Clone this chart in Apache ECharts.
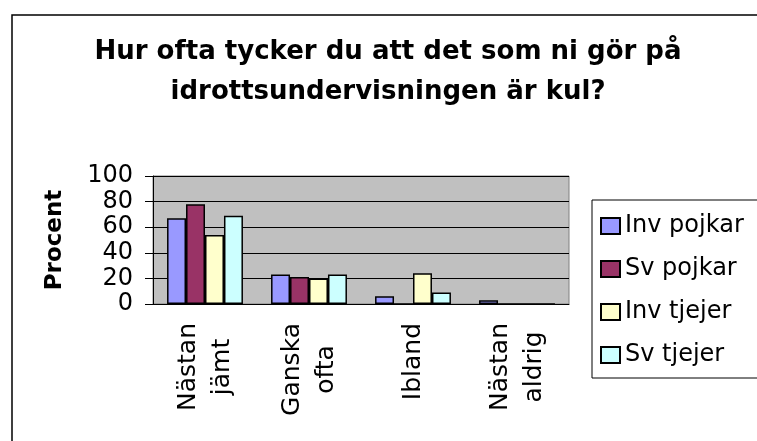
<!DOCTYPE html>
<html>
<head>
<meta charset="utf-8">
<script src="https://cdn.jsdelivr.net/npm/echarts@6/dist/echarts.min.js"></script>
<style>
html, body { margin: 0; padding: 0; background: #fff; }
#main { width: 757px; height: 441px; }
</style>
</head>
<body>
<div id="main"></div>
<script>
// data
var categories = ['Nästan\njämt', 'Ganska\nofta', 'Ibland', 'Nästan\naldrig'];
var seriesNames = ['Inv pojkar', 'Sv pojkar', 'Inv tjejer', 'Sv tjejer'];
var invPojkar = [67, 23, 6, 3];
var svPojkar = [78, 21, 0, 0];
var invTjejer = [54, 20, 24, 0];
var svTjejer = [69, 23, 9, 0];
var colors = ['#9999FF', '#993366', '#FFFFCC', '#CCFFFF'];

var chart = echarts.init(document.getElementById('main'));
var font = 'DejaVu Sans';

function bar(name, data, color) {
	return {
		name: name,
		type: 'bar',
		data: data,
		barGap: '0%',
		barCategoryGap: '27%',
		itemStyle: { color: color, borderColor: '#000', borderWidth: 1.5 }
	};
}

var option = {
	animation: false,
	backgroundColor: '#fff',
	graphic: [
		{
			type: 'rect',
			z: -10,
			shape: { x: 12, y: 15, width: 800, height: 500 },
			style: { fill: 'none', stroke: '#000', lineWidth: 1.5 }
		}
	],
	title: {
		text: 'Hur ofta tycker du att det som ni gör på\nidrottsundervisningen är kul?',
		left: 388,
		top: 32,
		padding: 0,
		textAlign: 'center',
		textStyle: { fontFamily: font, fontWeight: 'bold', fontSize: 26, lineHeight: 40, color: '#000' }
	},
	legend: {
		orient: 'vertical',
		left: 592,
		top: 200,
		padding: [14, 14, 11, 8],
		itemGap: 19,
		itemWidth: 19,
		itemHeight: 16,
		icon: 'rect',
		borderColor: '#000',
		borderWidth: 1,
		backgroundColor: '#fff',
		textStyle: { fontFamily: font, fontSize: 24, color: '#000' },
		data: seriesNames
	},
	grid: {
		left: 153,
		right: 188,
		top: 176,
		bottom: 137,
		show: true,
		backgroundColor: '#C0C0C0',
		borderColor: '#808080',
		borderWidth: 1
	},
	xAxis: {
		type: 'category',
		data: categories,
		axisLine: { lineStyle: { color: '#000', width: 1 } },
		axisTick: { length: 8, lineStyle: { color: '#000' } },
		axisLabel: {
			interval: 0,
			rotate: 90,
			margin: 19,
			color: '#000',
			formatter: function (v) {
				return v.split('\n').map(function (l) { return '{c|' + l + '}'; }).join('\n');
			},
			rich: {
				c: { align: 'center', fontFamily: font, fontSize: 25, lineHeight: 34, color: '#000' }
			}
		}
	},
	yAxis: {
		type: 'value',
		min: 0,
		max: 100,
		interval: 20,
		name: 'Procent',
		nameLocation: 'middle',
		nameRotate: 90,
		nameGap: 86,
		nameTextStyle: { fontFamily: font, fontWeight: 'bold', fontSize: 23, color: '#000' },
		axisLine: { show: true, lineStyle: { color: '#000', width: 1 } },
		axisTick: { show: true, length: 8, lineStyle: { color: '#000' } },
		splitLine: { lineStyle: { color: '#000', width: 1 } },
		axisLabel: { margin: 20, fontFamily: font, fontSize: 24, color: '#000' }
	},
	series: [
		bar(seriesNames[0], invPojkar, colors[0]),
		bar(seriesNames[1], svPojkar, colors[1]),
		bar(seriesNames[2], invTjejer, colors[2]),
		bar(seriesNames[3], svTjejer, colors[3])
	]
};

chart.setOption(option);
</script>
</body>
</html>
